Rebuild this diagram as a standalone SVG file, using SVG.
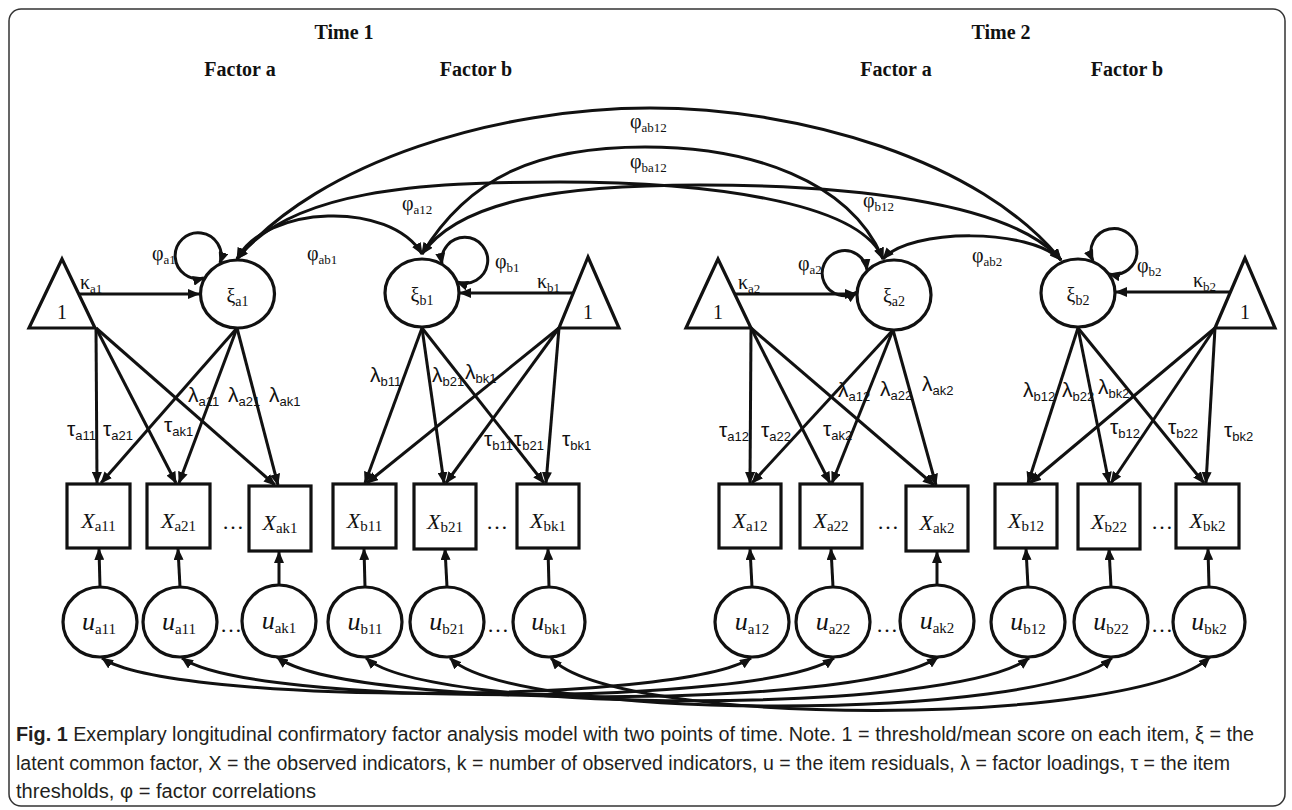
<svg xmlns="http://www.w3.org/2000/svg" width="1292" height="810" viewBox="0 0 1292 810">
<defs>
<style>
.ln{fill:none;stroke:#111;stroke-width:3}
.nd{fill:#fff;stroke:#111;stroke-width:3.2}
.ser{font-family:'Liberation Serif','Times New Roman',serif;fill:#111}
.san{font-family:'Liberation Sans',Arial,sans-serif;fill:#111}
.ttl{font-family:'Liberation Serif','Times New Roman',serif;font-weight:bold;font-size:20px;fill:#111;text-anchor:middle}
.gk{font-size:20px}
.sb{font-size:13px}
.lt{font-size:21px}
.ls{font-size:13px}
.xi{font-size:22px;font-style:italic}
.ui{font-size:26px;font-style:italic}
.xs{font-size:15px}
.mid{text-anchor:middle}
.cap{font-family:'Liberation Sans',Arial,sans-serif;font-size:20px;fill:#231f20}
</style>
<marker id="ah" viewBox="0 0 12 10" refX="11" refY="5" markerWidth="12" markerHeight="10" markerUnits="userSpaceOnUse" orient="auto-start-reverse">
<path d="M0,0 L12,5 L0,10 z" fill="#111"/>
</marker>
</defs>
<rect x="9" y="9" width="1276" height="797" rx="12" fill="#fff" stroke="#333" stroke-width="1.5"/>

<g id="titles">
<text class="ttl" x="344" y="39">Time 1</text>
<text class="ttl" x="240" y="76">Factor a</text>
<text class="ttl" x="476" y="76">Factor b</text>
<text class="ttl" x="1001" y="39">Time 2</text>
<text class="ttl" x="896" y="76">Factor a</text>
<text class="ttl" x="1127" y="76">Factor b</text>
</g>

<g id="connectors">
<path class="ln" marker-start="url(#ah)" marker-end="url(#ah)" d="M237,259 C320,160 500,108 650,108 C800,108 980,160 1061,260"/>
<path class="ln" marker-start="url(#ah)" marker-end="url(#ah)" d="M422,254 C470,175 540,147 645,147 C750,147 850,180 883,259"/>
<path class="ln" marker-start="url(#ah)" marker-end="url(#ah)" d="M237,259 C290,190 420,182 560,182 C700,182 860,200 883,259"/>
<path class="ln" marker-start="url(#ah)" marker-end="url(#ah)" d="M422,254 C460,200 560,185 700,185 C840,185 1010,200 1061,260"/>
<path class="ln" marker-start="url(#ah)" marker-end="url(#ah)" d="M237,259 C265,205 390,200 422,254"/>
<path class="ln" marker-start="url(#ah)" marker-end="url(#ah)" d="M883,259 C910,228 1030,228 1061,260"/>
<path class="ln" marker-start="url(#ah)" marker-end="url(#ah)" d="M204,278 A23,23 0 1 1 220,263"/>
<path class="ln" marker-start="url(#ah)" marker-end="url(#ah)" d="M442,264 A23,23 0 1 1 457,282"/>
<path class="ln" marker-start="url(#ah)" marker-end="url(#ah)" d="M867,270 A22.5,22.5 0 1 0 857,292"/>
<path class="ln" marker-start="url(#ah)" marker-end="url(#ah)" d="M1093,261 A23,23 0 1 1 1109,274"/>
<path class="ln" marker-end="url(#ah)" d="M79,294 L199,294"/>
<path class="ln" marker-end="url(#ah)" d="M573,293 L460,293"/>
<path class="ln" marker-end="url(#ah)" d="M735,294 L856,294"/>
<path class="ln" marker-end="url(#ah)" d="M1230,292 L1116,292"/>
<path class="ln" marker-end="url(#ah)" d="M96,328 L97,483"/>
<path class="ln" marker-end="url(#ah)" d="M96,328 L176,483"/>
<path class="ln" marker-end="url(#ah)" d="M96,328 L275,485"/>
<path class="ln" marker-end="url(#ah)" d="M237,328 L101,483"/>
<path class="ln" marker-end="url(#ah)" d="M237,328 L179,483"/>
<path class="ln" marker-end="url(#ah)" d="M237,328 L278,485"/>
<path class="ln" marker-end="url(#ah)" d="M422,328 L365,483"/>
<path class="ln" marker-end="url(#ah)" d="M422,328 L444,483"/>
<path class="ln" marker-end="url(#ah)" d="M422,328 L544,483"/>
<path class="ln" marker-end="url(#ah)" d="M559,328 L367,483"/>
<path class="ln" marker-end="url(#ah)" d="M559,328 L446,483"/>
<path class="ln" marker-end="url(#ah)" d="M559,328 L546,483"/>
<path class="ln" marker-end="url(#ah)" d="M751,328 L750,483"/>
<path class="ln" marker-end="url(#ah)" d="M751,328 L830,483"/>
<path class="ln" marker-end="url(#ah)" d="M751,328 L934,485"/>
<path class="ln" marker-end="url(#ah)" d="M893,330 L752,483"/>
<path class="ln" marker-end="url(#ah)" d="M893,330 L832,483"/>
<path class="ln" marker-end="url(#ah)" d="M893,330 L936,485"/>
<path class="ln" marker-end="url(#ah)" d="M1078,328 L1028,483"/>
<path class="ln" marker-end="url(#ah)" d="M1078,328 L1109,483"/>
<path class="ln" marker-end="url(#ah)" d="M1078,328 L1204,483"/>
<path class="ln" marker-end="url(#ah)" d="M1215,328 L1030,483"/>
<path class="ln" marker-end="url(#ah)" d="M1215,328 L1111,483"/>
<path class="ln" marker-end="url(#ah)" d="M1215,328 L1206,483"/>
<path class="ln" marker-end="url(#ah)" d="M100,587 L99,549"/>
<path class="ln" marker-end="url(#ah)" d="M180,587 L178,549"/>
<path class="ln" marker-end="url(#ah)" d="M279,585 L279,552"/>
<path class="ln" marker-end="url(#ah)" d="M365,587 L364,549"/>
<path class="ln" marker-end="url(#ah)" d="M447,587 L445,549"/>
<path class="ln" marker-end="url(#ah)" d="M549,587 L548,549"/>
<path class="ln" marker-end="url(#ah)" d="M752,587 L750,549"/>
<path class="ln" marker-end="url(#ah)" d="M833,587 L831,549"/>
<path class="ln" marker-end="url(#ah)" d="M937,585 L937,552"/>
<path class="ln" marker-end="url(#ah)" d="M1028,587 L1026,549"/>
<path class="ln" marker-end="url(#ah)" d="M1111,587 L1109,549"/>
<path class="ln" marker-end="url(#ah)" d="M1209,587 L1208,549"/>
<path class="ln" marker-start="url(#ah)" marker-end="url(#ah)" d="M102,658 C170,705 680,705 751,658"/>
<path class="ln" marker-start="url(#ah)" marker-end="url(#ah)" d="M182,658 C250,707 765,707 834,658"/>
<path class="ln" marker-start="url(#ah)" marker-end="url(#ah)" d="M277,657 C345,710 865,710 938,657"/>
<path class="ln" marker-start="url(#ah)" marker-end="url(#ah)" d="M366,658 C430,715 955,715 1029,658"/>
<path class="ln" marker-start="url(#ah)" marker-end="url(#ah)" d="M450,658 C515,722 1040,722 1112,658"/>
<path class="ln" marker-start="url(#ah)" marker-end="url(#ah)" d="M551,658 C615,728 1135,728 1210,657"/>
</g>

<g id="edge-labels">
<text class="ser gk" x="630" y="128">φ<tspan class="sb" dy="4">ab12</tspan></text>
<text class="ser gk" x="630" y="168">φ<tspan class="sb" dy="4">ba12</tspan></text>
<text class="ser gk" x="402" y="210">φ<tspan class="sb" dy="4">a12</tspan></text>
<text class="ser gk" x="863" y="207">φ<tspan class="sb" dy="4">b12</tspan></text>
<text class="ser gk" x="152" y="260">φ<tspan class="sb" dy="4">a1</tspan></text>
<text class="ser gk" x="307" y="260">φ<tspan class="sb" dy="4">ab1</tspan></text>
<text class="ser gk" x="495" y="268">φ<tspan class="sb" dy="4">b1</tspan></text>
<text class="ser gk" x="798" y="270">φ<tspan class="sb" dy="4">a2</tspan></text>
<text class="ser gk" x="972" y="262">φ<tspan class="sb" dy="4">ab2</tspan></text>
<text class="ser gk" x="1137" y="272">φ<tspan class="sb" dy="4">b2</tspan></text>
<text class="ser gk" x="80" y="289">κ<tspan class="sb" dy="4">a1</tspan></text>
<text class="ser gk" x="537" y="288">κ<tspan class="sb" dy="4">b1</tspan></text>
<text class="ser gk" x="738" y="289">κ<tspan class="sb" dy="4">a2</tspan></text>
<text class="ser gk" x="1193" y="287">κ<tspan class="sb" dy="4">b2</tspan></text>
<text class="san lt" x="188" y="402">λ<tspan class="ls" dy="4">a11</tspan></text>
<text class="san lt" x="228" y="402">λ<tspan class="ls" dy="4">a21</tspan></text>
<text class="san lt" x="269" y="402">λ<tspan class="ls" dy="4">ak1</tspan></text>
<text class="san lt" x="370" y="382">λ<tspan class="ls" dy="4">b11</tspan></text>
<text class="san lt" x="432" y="382">λ<tspan class="ls" dy="4">b21</tspan></text>
<text class="san lt" x="465" y="379">λ<tspan class="ls" dy="4">bk1</tspan></text>
<text class="san lt" x="838" y="397">λ<tspan class="ls" dy="4">a12</tspan></text>
<text class="san lt" x="880" y="396">λ<tspan class="ls" dy="4">a22</tspan></text>
<text class="san lt" x="922" y="391">λ<tspan class="ls" dy="4">ak2</tspan></text>
<text class="san lt" x="1023" y="397">λ<tspan class="ls" dy="4">b12</tspan></text>
<text class="san lt" x="1062" y="397">λ<tspan class="ls" dy="4">b22</tspan></text>
<text class="san lt" x="1098" y="394">λ<tspan class="ls" dy="4">bk2</tspan></text>
<text class="san lt" x="67" y="436">τ<tspan class="ls" dy="4">a11</tspan></text>
<text class="san lt" x="103" y="436">τ<tspan class="ls" dy="4">a21</tspan></text>
<text class="san lt" x="164" y="432">τ<tspan class="ls" dy="4">ak1</tspan></text>
<text class="san lt" x="484" y="446">τ<tspan class="ls" dy="4">b11</tspan></text>
<text class="san lt" x="514" y="446">τ<tspan class="ls" dy="4">b21</tspan></text>
<text class="san lt" x="562" y="446">τ<tspan class="ls" dy="4">bk1</tspan></text>
<text class="san lt" x="719" y="437">τ<tspan class="ls" dy="4">a12</tspan></text>
<text class="san lt" x="761" y="437">τ<tspan class="ls" dy="4">a22</tspan></text>
<text class="san lt" x="823" y="436">τ<tspan class="ls" dy="4">ak2</tspan></text>
<text class="san lt" x="1110" y="434">τ<tspan class="ls" dy="4">b12</tspan></text>
<text class="san lt" x="1168" y="434">τ<tspan class="ls" dy="4">b22</tspan></text>
<text class="san lt" x="1224" y="437">τ<tspan class="ls" dy="4">bk2</tspan></text>
</g>

<g id="tri-a1"><polygon class="nd" points="62,259 29,328 95,328"/><text class="ser mid" x="62" y="319" font-size="20">1</text></g>
<g id="tri-b1"><polygon class="nd" points="588,257 559,328 619,328"/><text class="ser mid" x="588" y="319" font-size="20">1</text></g>
<g id="tri-a2"><polygon class="nd" points="718,259 686,328 751,328"/><text class="ser mid" x="718" y="319" font-size="20">1</text></g>
<g id="tri-b2"><polygon class="nd" points="1245,258 1215,328 1275,328"/><text class="ser mid" x="1245" y="319" font-size="20">1</text></g>

<g id="xi-a1"><ellipse class="nd" cx="237.5" cy="294" rx="37" ry="34"/><text class="ser mid" x="237.5" y="303" font-size="20">ξ<tspan font-size="14" dy="3">a1</tspan></text></g>
<g id="xi-b1"><ellipse class="nd" cx="422" cy="293" rx="37" ry="34"/><text class="ser mid" x="422" y="302" font-size="20">ξ<tspan font-size="14" dy="3">b1</tspan></text></g>
<g id="xi-a2"><ellipse class="nd" cx="894" cy="295" rx="37" ry="35"/><text class="ser mid" x="894" y="303" font-size="20">ξ<tspan font-size="14" dy="3">a2</tspan></text></g>
<g id="xi-b2"><ellipse class="nd" cx="1078" cy="293" rx="37" ry="34"/><text class="ser mid" x="1078" y="302" font-size="20">ξ<tspan font-size="14" dy="3">b2</tspan></text></g>

<g id="x-a11"><rect class="nd" x="67" y="484" width="63" height="64"/><text class="ser mid" x="98.5" y="528"><tspan class="xi">X</tspan><tspan class="xs" dy="3">a11</tspan></text></g>
<g id="x-a21"><rect class="nd" x="147" y="484" width="63" height="64"/><text class="ser mid" x="178.5" y="528"><tspan class="xi">X</tspan><tspan class="xs" dy="3">a21</tspan></text></g>
<g id="x-ak1"><rect class="nd" x="249" y="486" width="62" height="65"/><text class="ser mid" x="280" y="530"><tspan class="xi">X</tspan><tspan class="xs" dy="3">ak1</tspan></text></g>
<g id="x-b11"><rect class="nd" x="333" y="484" width="63" height="64"/><text class="ser mid" x="364.5" y="528"><tspan class="xi">X</tspan><tspan class="xs" dy="3">b11</tspan></text></g>
<g id="x-b21"><rect class="nd" x="414" y="484" width="62" height="65"/><text class="ser mid" x="445" y="529"><tspan class="xi">X</tspan><tspan class="xs" dy="3">b21</tspan></text></g>
<g id="x-bk1"><rect class="nd" x="517" y="484" width="62" height="64"/><text class="ser mid" x="548" y="528"><tspan class="xi">X</tspan><tspan class="xs" dy="3">bk1</tspan></text></g>
<g id="x-a12"><rect class="nd" x="719" y="484" width="62" height="64"/><text class="ser mid" x="750" y="528"><tspan class="xi">X</tspan><tspan class="xs" dy="3">a12</tspan></text></g>
<g id="x-a22"><rect class="nd" x="800" y="484" width="62" height="64"/><text class="ser mid" x="831" y="528"><tspan class="xi">X</tspan><tspan class="xs" dy="3">a22</tspan></text></g>
<g id="x-ak2"><rect class="nd" x="906" y="486" width="62" height="65"/><text class="ser mid" x="937" y="530"><tspan class="xi">X</tspan><tspan class="xs" dy="3">ak2</tspan></text></g>
<g id="x-b12"><rect class="nd" x="995" y="484" width="62" height="64"/><text class="ser mid" x="1026" y="528"><tspan class="xi">X</tspan><tspan class="xs" dy="3">b12</tspan></text></g>
<g id="x-b22"><rect class="nd" x="1078" y="484" width="62" height="65"/><text class="ser mid" x="1109" y="529"><tspan class="xi">X</tspan><tspan class="xs" dy="3">b22</tspan></text></g>
<g id="x-bk2"><rect class="nd" x="1176" y="484" width="63" height="64"/><text class="ser mid" x="1207.5" y="528"><tspan class="xi">X</tspan><tspan class="xs" dy="3">bk2</tspan></text></g>

<g id="dots">
<text class="ser mid" x="233" y="529" font-size="22">…</text>
<text class="ser mid" x="497" y="529" font-size="22">…</text>
<text class="ser mid" x="888" y="529" font-size="22">…</text>
<text class="ser mid" x="1162" y="529" font-size="22">…</text>
<text class="ser mid" x="231" y="632" font-size="22">…</text>
<text class="ser mid" x="498" y="632" font-size="22">…</text>
<text class="ser mid" x="887" y="632" font-size="22">…</text>
<text class="ser mid" x="1162" y="632" font-size="22">…</text>
</g>

<g id="u-a11"><ellipse class="nd" cx="100" cy="622" rx="37" ry="35"/><text class="ser mid" x="99" y="630"><tspan class="ui">u</tspan><tspan class="xs" dy="4">a11</tspan></text></g>
<g id="u-a21"><ellipse class="nd" cx="180" cy="622" rx="37" ry="35"/><text class="ser mid" x="179" y="630"><tspan class="ui">u</tspan><tspan class="xs" dy="4">a11</tspan></text></g>
<g id="u-ak1"><ellipse class="nd" cx="279" cy="621" rx="37" ry="36"/><text class="ser mid" x="279" y="629"><tspan class="ui">u</tspan><tspan class="xs" dy="4">ak1</tspan></text></g>
<g id="u-b11"><ellipse class="nd" cx="365" cy="622" rx="37" ry="35"/><text class="ser mid" x="365" y="630"><tspan class="ui">u</tspan><tspan class="xs" dy="4">b11</tspan></text></g>
<g id="u-b21"><ellipse class="nd" cx="447" cy="622" rx="37" ry="35"/><text class="ser mid" x="447" y="630"><tspan class="ui">u</tspan><tspan class="xs" dy="4">b21</tspan></text></g>
<g id="u-bk1"><ellipse class="nd" cx="549" cy="622" rx="36" ry="35"/><text class="ser mid" x="549" y="630"><tspan class="ui">u</tspan><tspan class="xs" dy="4">bk1</tspan></text></g>
<g id="u-a12"><ellipse class="nd" cx="752" cy="622" rx="37" ry="35"/><text class="ser mid" x="752" y="630"><tspan class="ui">u</tspan><tspan class="xs" dy="4">a12</tspan></text></g>
<g id="u-a22"><ellipse class="nd" cx="833" cy="622" rx="37" ry="35"/><text class="ser mid" x="833" y="630"><tspan class="ui">u</tspan><tspan class="xs" dy="4">a22</tspan></text></g>
<g id="u-ak2"><ellipse class="nd" cx="937" cy="621" rx="37" ry="36"/><text class="ser mid" x="937" y="629"><tspan class="ui">u</tspan><tspan class="xs" dy="4">ak2</tspan></text></g>
<g id="u-b12"><ellipse class="nd" cx="1028" cy="622" rx="37" ry="35"/><text class="ser mid" x="1028" y="630"><tspan class="ui">u</tspan><tspan class="xs" dy="4">b12</tspan></text></g>
<g id="u-b22"><ellipse class="nd" cx="1111" cy="622" rx="37" ry="35"/><text class="ser mid" x="1111" y="630"><tspan class="ui">u</tspan><tspan class="xs" dy="4">b22</tspan></text></g>
<g id="u-bk2"><ellipse class="nd" cx="1209" cy="622" rx="36" ry="35"/><text class="ser mid" x="1209" y="630"><tspan class="ui">u</tspan><tspan class="xs" dy="4">bk2</tspan></text></g>

<g id="caption">
<text class="cap" x="16" y="741" textLength="1238" lengthAdjust="spacingAndGlyphs"><tspan font-weight="bold">Fig. 1</tspan> Exemplary longitudinal confirmatory factor analysis model with two points of time. Note. 1 = threshold/mean score on each item, ξ = the</text>
<text class="cap" x="16" y="770" textLength="1214" lengthAdjust="spacingAndGlyphs">latent common factor, X = the observed indicators, k = number of observed indicators, u = the item residuals, λ = factor loadings, τ = the item</text>
<text class="cap" x="16" y="798" textLength="300" lengthAdjust="spacingAndGlyphs">thresholds, φ = factor correlations</text>
</g>
</svg>
